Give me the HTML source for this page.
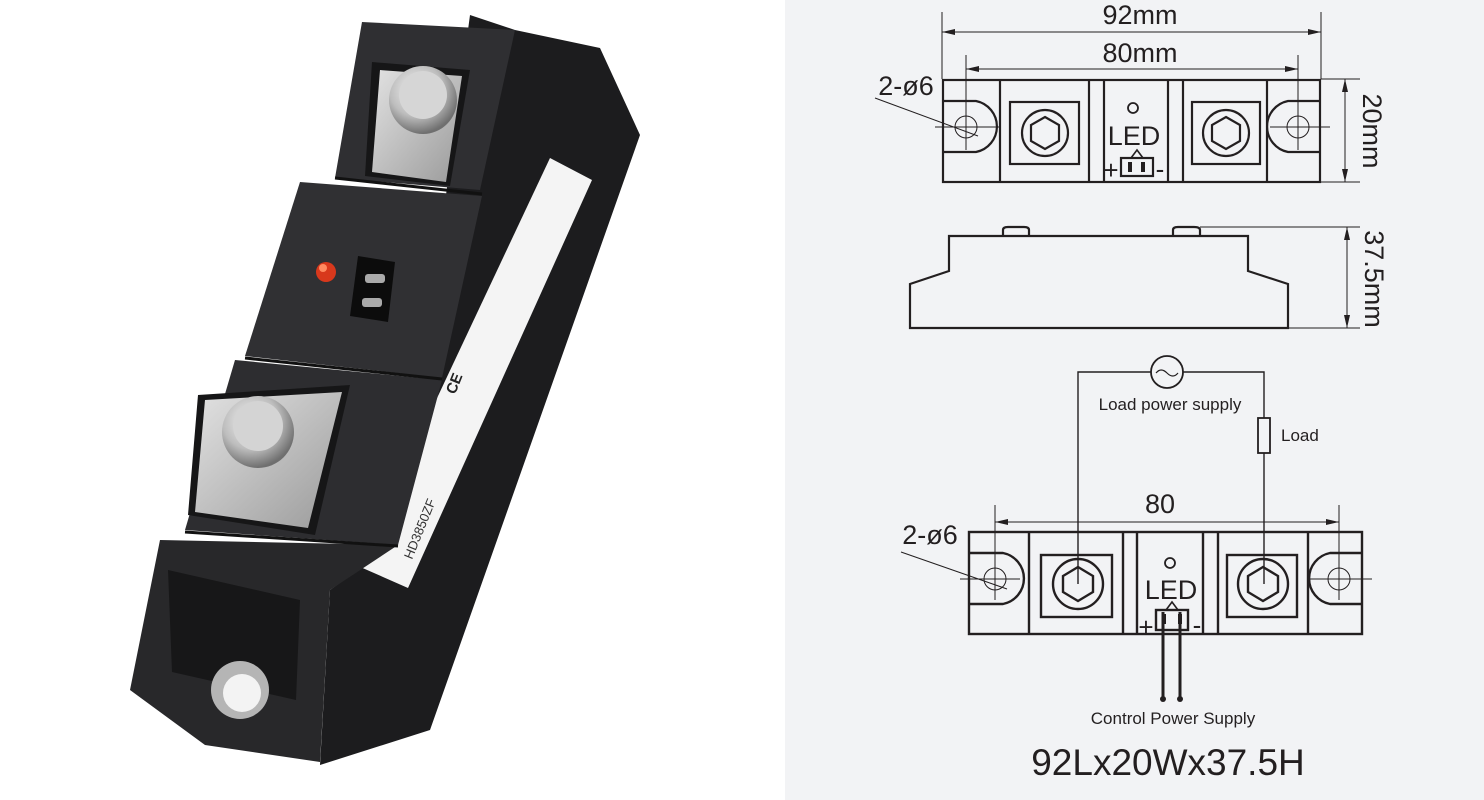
<!DOCTYPE html>
<html><head><meta charset="utf-8"><style>
html,body{margin:0;padding:0;width:1484px;height:800px;overflow:hidden;background:#fff}
svg{display:block}
text{font-family:"Liberation Sans",sans-serif;fill:#231f20}
</style></head><body>
<svg width="1484" height="800" viewBox="0 0 1484 800" xmlns="http://www.w3.org/2000/svg">
<defs>
<radialGradient id="scr" cx="40%" cy="35%" r="65%"><stop offset="0" stop-color="#f4f4f4"/><stop offset="0.6" stop-color="#bdbdbd"/><stop offset="1" stop-color="#6f6f6f"/></radialGradient>
<linearGradient id="met" x1="0" y1="0" x2="1" y2="1"><stop offset="0" stop-color="#e2e2e2"/><stop offset="1" stop-color="#9a9a9a"/></linearGradient>
</defs>
<rect x="0" y="0" width="785" height="800" fill="#fff"/>
<rect x="785" y="0" width="699" height="800" fill="#f2f3f5"/>

<!-- PHOTO approximation -->
<polygon points="470,15 515,30 600,48 640,135 430,730 320,765 330,590 400,540" fill="#1c1c1e"/>
<polygon points="550,158 592,180 408,588 358,566" fill="#f4f4f4"/>
<!-- blocks -->
<polygon points="362,22 515,30 480,190 335,178" fill="#2f2f32"/>
<polygon points="300,182 482,196 442,378 245,356" fill="#303033"/>
<polygon points="235,360 442,380 398,545 185,530" fill="#2d2d30"/>
<polygon points="160,540 398,545 330,590 320,762 205,745 130,690" fill="#28282a"/>
<polygon points="168,570 300,600 296,700 172,672" fill="#171718"/>
<g stroke="#111" stroke-width="3" fill="none">
<line x1="335" y1="178" x2="482" y2="194"/>
<line x1="245" y1="358" x2="442" y2="379"/>
<line x1="185" y1="532" x2="398" y2="546"/>
</g>
<!-- top terminal -->
<polygon points="372,62 470,70 450,186 365,176" fill="#161617"/>
<polygon points="380,70 462,76 446,182 372,172" fill="url(#met)"/>
<circle cx="423" cy="100" r="34" fill="url(#scr)"/>
<circle cx="423" cy="95" r="24" fill="#d6d6d6"/>
<!-- bottom terminal -->
<polygon points="198,395 350,385 315,535 188,515" fill="#161617"/>
<polygon points="205,400 342,392 308,528 195,512" fill="url(#met)"/>
<circle cx="258" cy="432" r="36" fill="url(#scr)"/>
<circle cx="258" cy="426" r="25" fill="#d4d4d4"/>
<!-- LED & connector -->
<circle cx="326" cy="272" r="10" fill="#d8381c"/>
<circle cx="323" cy="268" r="4" fill="#ff8a60"/>
<polygon points="358,256 395,262 388,322 350,316" fill="#0c0c0c"/>
<rect x="365" y="274" width="20" height="9" rx="3" fill="#aaa"/>
<rect x="362" y="298" width="20" height="9" rx="3" fill="#aaa"/>
<!-- hole -->
<circle cx="240" cy="690" r="29" fill="#b5b5b5"/>
<circle cx="242" cy="693" r="19" fill="#f3f3f3"/>
<text x="0" y="0" transform="translate(455,395) rotate(-68)" font-size="15" style="fill:#222;font-weight:bold">CE</text>
<text x="0" y="0" transform="translate(412,560) rotate(-68)" font-size="13" style="fill:#333">HD3850ZF</text>

<!-- DRAWING -->
<g stroke="#231f20" fill="none" stroke-width="1">
 <line x1="942" y1="12" x2="942" y2="79"/><line x1="1321" y1="12" x2="1321" y2="79"/>
 <line x1="942" y1="32" x2="1321" y2="32"/>
 <line x1="966" y1="55" x2="966" y2="150"/><line x1="1298" y1="55" x2="1298" y2="150"/>
 <line x1="966" y1="69" x2="1298" y2="69"/>
 <line x1="1321" y1="79" x2="1360" y2="79"/><line x1="1321" y1="182" x2="1360" y2="182"/>
 <line x1="1345" y1="79" x2="1345" y2="182"/>
 <line x1="935" y1="127" x2="1000" y2="127"/><line x1="1270" y1="127" x2="1330" y2="127"/>
 <line x1="875" y1="98" x2="978" y2="136"/>
 <circle cx="966" cy="127" r="11"/><circle cx="1298" cy="127" r="11"/>
</g>
<g fill="#231f20">
 <polygon points="942,32 955,29 955,35"/><polygon points="1321,32 1308,29 1308,35"/>
 <polygon points="966,69 979,66 979,72"/><polygon points="1298,69 1285,66 1285,72"/>
 <polygon points="1345,79 1342,92 1348,92"/><polygon points="1345,182 1342,169 1348,169"/>
</g>
<g stroke="#231f20" fill="none" stroke-width="2.2">
 <rect x="943" y="80" width="377" height="102"/>
 <line x1="1000" y1="80" x2="1000" y2="182"/><line x1="1089" y1="80" x2="1089" y2="182"/>
 <line x1="1104" y1="80" x2="1104" y2="182"/><line x1="1168" y1="80" x2="1168" y2="182"/>
 <line x1="1183" y1="80" x2="1183" y2="182"/><line x1="1267" y1="80" x2="1267" y2="182"/>
 <path d="M943,101 H976 A26,26 0 0 1 976,152 H943"/>
 <path d="M1320,101 H1288 A26,26 0 0 0 1288,152 H1320"/>
 <rect x="1010" y="102" width="69" height="62"/>
 <rect x="1192" y="102" width="68" height="62"/>
 <circle cx="1045" cy="133" r="23"/><circle cx="1226" cy="133" r="23"/>
 <polygon points="1045,117 1059,125 1059,141 1045,149 1031,141 1031,125"/>
 <polygon points="1226,117 1240,125 1240,141 1226,149 1212,141 1212,125"/>
 <rect x="1121" y="158" width="32" height="18"/>
 <polyline points="1131,158 1137,150 1143,158" stroke-width="1.6"/>
</g>
<circle cx="1133" cy="108" r="5" stroke="#231f20" stroke-width="1.8" fill="none"/>
<g fill="#231f20"><rect x="1128" y="162" width="4" height="10"/><rect x="1141" y="162" width="4" height="10"/></g>
<text x="1140" y="24" font-size="27" text-anchor="middle">92mm</text>
<text x="1140" y="62" font-size="27" text-anchor="middle">80mm</text>
<text x="906" y="95" font-size="27" text-anchor="middle">2-ø6</text>
<text x="1134" y="145" font-size="27" text-anchor="middle">LED</text>
<text x="1111" y="179" font-size="26" text-anchor="middle">+</text>
<text x="1160" y="178" font-size="26" text-anchor="middle">-</text>
<text x="0" y="0" font-size="27" text-anchor="middle" transform="translate(1363,131) rotate(90)">20mm</text>

<!-- side view -->
<g stroke="#231f20" fill="none" stroke-width="2.2">
 <polygon points="949,236 1248,236 1248,271 1288,284 1288,328 910,328 910,284 949,271"/>
 <path d="M1003,236 V230 Q1003,227 1008,227 H1024 Q1029,227 1029,230 V236"/>
 <path d="M1173,236 V230 Q1173,227 1178,227 H1194 Q1200,227 1200,230 V236"/>
</g>
<g stroke="#231f20" stroke-width="1">
 <line x1="1200" y1="227" x2="1360" y2="227"/><line x1="1288" y1="328" x2="1360" y2="328"/>
 <line x1="1347" y1="227" x2="1347" y2="328"/>
</g>
<g fill="#231f20"><polygon points="1347,227 1344,240 1350,240"/><polygon points="1347,328 1344,315 1350,315"/></g>
<text x="0" y="0" font-size="27" text-anchor="middle" transform="translate(1365,279) rotate(90)">37.5mm</text>

<!-- bottom view -->
<g stroke="#231f20" fill="none" stroke-width="1.4">
 <polyline points="1078,584 1078,372 1151,372"/>
 <polyline points="1183,372 1264,372 1264,418"/>
 <line x1="1264" y1="453" x2="1264" y2="584"/>
 <circle cx="1167" cy="372" r="16" stroke-width="1.8"/>
 <path d="M1156,373 q5,-6 11,0 q6,6 11,0" stroke-width="1.2"/>
 <rect x="1258" y="418" width="12" height="35" stroke-width="1.8"/>
</g>
<g stroke="#231f20" fill="none" stroke-width="1">
 <line x1="995" y1="505" x2="995" y2="600"/><line x1="1339" y1="505" x2="1339" y2="600"/>
 <line x1="995" y1="522" x2="1339" y2="522"/>
 <line x1="960" y1="579" x2="1020" y2="579"/><line x1="1310" y1="579" x2="1372" y2="579"/>
 <line x1="901" y1="552" x2="1007" y2="589"/>
 <circle cx="995" cy="579" r="11"/><circle cx="1339" cy="579" r="11"/>
</g>
<g fill="#231f20"><polygon points="995,522 1008,519 1008,525"/><polygon points="1339,522 1326,519 1326,525"/></g>
<g stroke="#231f20" fill="none" stroke-width="2.4">
 <rect x="969" y="532" width="393" height="102"/>
 <line x1="1029" y1="532" x2="1029" y2="634"/><line x1="1123" y1="532" x2="1123" y2="634"/>
 <line x1="1137" y1="532" x2="1137" y2="634"/><line x1="1203" y1="532" x2="1203" y2="634"/>
 <line x1="1218" y1="532" x2="1218" y2="634"/><line x1="1308" y1="532" x2="1308" y2="634"/>
 <path d="M969,553 H1003 A26,26 0 0 1 1003,604 H969"/>
 <path d="M1362,553 H1330 A26,26 0 0 0 1330,604 H1362"/>
 <rect x="1041" y="555" width="71" height="62"/>
 <rect x="1227" y="555" width="70" height="62"/>
 <circle cx="1078" cy="584" r="25"/><circle cx="1263" cy="584" r="25"/>
 <polygon points="1078,567 1093,576 1093,592 1078,601 1063,592 1063,576"/>
 <polygon points="1263,567 1278,576 1278,592 1263,601 1248,592 1248,576"/>
 <rect x="1156" y="610" width="32" height="20"/>
 <polyline points="1166,610 1172,602 1178,610" stroke-width="1.6"/>
 <line x1="1163" y1="612" x2="1163" y2="699" stroke-width="3"/>
 <line x1="1180" y1="612" x2="1180" y2="699" stroke-width="3"/>
</g>
<circle cx="1170" cy="563" r="5" stroke="#231f20" stroke-width="1.8" fill="none"/>
<g fill="#231f20"><rect x="1162" y="614" width="4" height="10"/><rect x="1178" y="614" width="4" height="10"/><circle cx="1163" cy="699" r="3"/><circle cx="1180" cy="699" r="3"/></g>
<text x="1160" y="513" font-size="27" text-anchor="middle">80</text>
<text x="930" y="544" font-size="27" text-anchor="middle">2-ø6</text>
<text x="1171" y="599" font-size="27" text-anchor="middle">LED</text>
<text x="1146" y="636" font-size="26" text-anchor="middle">+</text>
<text x="1197" y="634" font-size="26" text-anchor="middle">-</text>
<text x="1170" y="410" font-size="17" text-anchor="middle">Load power supply</text>
<text x="1281" y="441" font-size="17">Load</text>
<text x="1173" y="724" font-size="17" text-anchor="middle">Control Power Supply</text>
<text x="1168" y="775" font-size="37" text-anchor="middle">92Lx20Wx37.5H</text>
</svg>
</body></html>
